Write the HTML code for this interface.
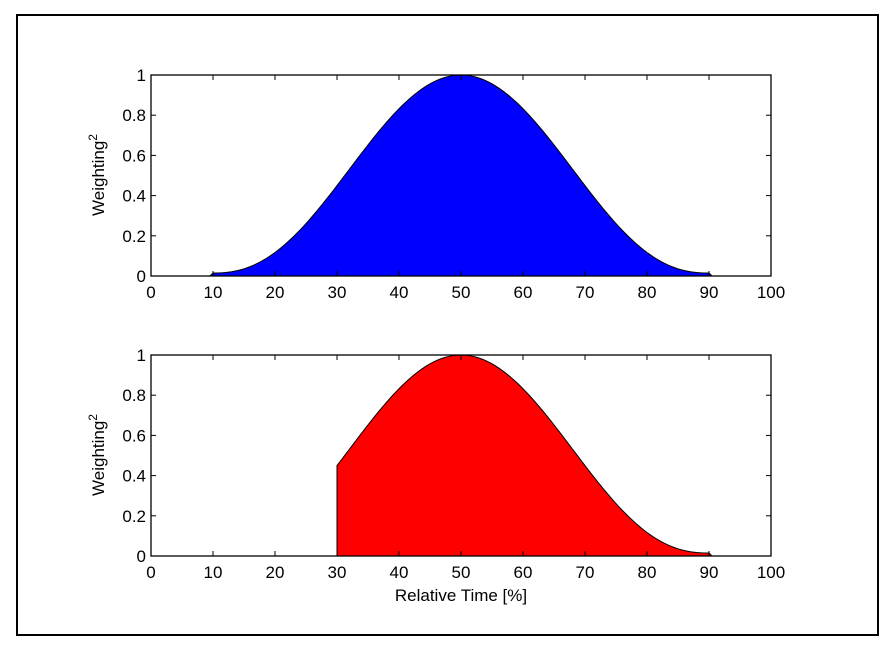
<!DOCTYPE html>
<html><head><meta charset="utf-8"><style>body{margin:0;background:#fff}svg{display:block}text{font-family:"Liberation Sans",Arial,sans-serif;font-size:17px;fill:#000}</style></head>
<body>
<svg id="s" width="894" height="651" viewBox="0 0 894 651" xmlns="http://www.w3.org/2000/svg">
<rect x="17" y="15" width="861" height="620" fill="none" stroke="#000" stroke-width="2"/>
<g id="g1"></g><g id="g2"></g>
<text transform="translate(104,175) rotate(-90)" text-anchor="middle">Weighting<tspan dy="-7" font-size="12">2</tspan></text>
<text transform="translate(104,455) rotate(-90)" text-anchor="middle">Weighting<tspan dy="-7" font-size="12">2</tspan></text>
<text x="461" y="601" text-anchor="middle">Relative Time [%]</text>
</svg>
<script>
function f(x){if(x<10||x>90)return 0;return 0.015+0.985*Math.pow(Math.sin(Math.PI*(x-10)/80),2.36);}
function axes(id,top,start,color){
 var g=document.getElementById(id),L=151,R=771,B=top+201,H=201,h='';
 var X=function(v){return L+v*6.2},Y=function(v){return B-v*H};
 var d='M'+X(start)+','+B;
 for(var v=start;v<=100.001;v+=0.5){d+=' L'+X(v).toFixed(2)+','+Y(f(v)).toFixed(2);}
 d+=' L'+X(100)+','+B+' Z';
 h+='<path d="'+d+'" fill="'+color+'" stroke="#000" stroke-width="1"/>';
 h+='<rect x="'+L+'" y="'+top+'" width="'+(R-L)+'" height="'+H+'" fill="none" stroke="#000" stroke-width="1.3"/>';
 for(var i=0;i<=10;i++){var x=X(i*10);h+='<line x1="'+x+'" y1="'+B+'" x2="'+x+'" y2="'+(B-5)+'" stroke="#000"/><line x1="'+x+'" y1="'+top+'" x2="'+x+'" y2="'+(top+5)+'" stroke="#000"/>';
 h+='<text x="'+x+'" y="'+(B+22)+'" text-anchor="middle">'+(i*10)+'</text>';}
 var lab=['0','0.2','0.4','0.6','0.8','1'];
 for(var j=0;j<=5;j++){var y=Y(j*0.2);h+='<line x1="'+L+'" y1="'+y+'" x2="'+(L+5)+'" y2="'+y+'" stroke="#000"/><line x1="'+R+'" y1="'+y+'" x2="'+(R-5)+'" y2="'+y+'" stroke="#000"/>';
 h+='<text x="146" y="'+(y+6)+'" text-anchor="end">'+lab[j]+'</text>';}
 g.innerHTML=h;
}
axes('g1',75,0,'#0000ff');axes('g2',355,30,'#ff0000');
</script>
</body></html>
